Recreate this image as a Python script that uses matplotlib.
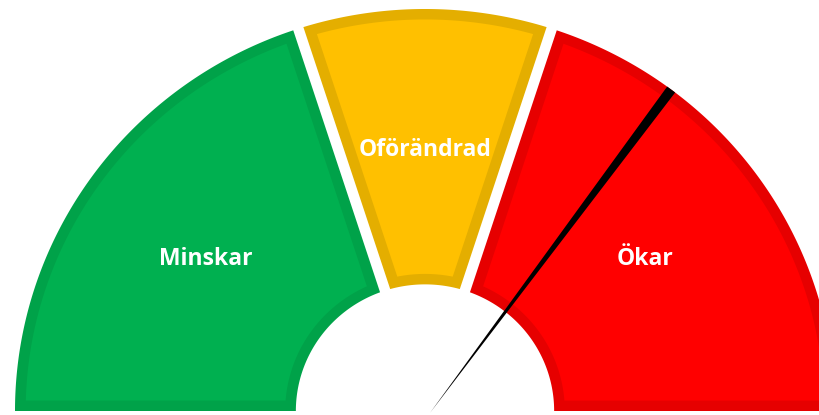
import numpy as np
import matplotlib
matplotlib.use("Agg")
import matplotlib.pyplot as plt
from matplotlib.patches import Polygon

# ---- data ----
categories = ["Minskar", "Oförändrad", "Ökar"]
segment_values = [40, 20, 40]          # share of the half circle (0-100 scale)
needle_value = 70.5                    # needle position on the 0-100 scale
scale_max = 100

fill_colors = ["#00B050", "#FFC000", "#FF0000"]
border_colors = ["#00A249", "#E4AE00", "#E60000"]

# ---- geometry (styles) ----
r_out = 1.0
r_in = 0.315
gap = 0.026          # white gap between segments
border = 0.026       # darker inner border width
needle_half_width_deg = 0.7
label_r = 0.662
label_dy = -0.012

fig = plt.figure(figsize=(8.19, 4.15), dpi=100)
ax = fig.add_axes([0, 0, 1, 1])
ax.set_xlim(-425 / 410, 394 / 410)
ax.set_ylim(-4 / 402, 411 / 402)
ax.axis("off")


def sector_poly(th1, th2, R, r, d1, d2, n=200):
    """th1 > th2 in degrees; d1/d2 perpendicular offsets of the straight edges."""
    a1 = np.radians(th1)
    a2 = np.radians(th2)
    out = np.linspace(a1 - np.arcsin(d1 / R), a2 + np.arcsin(d2 / R), n)
    inn = np.linspace(a2 + np.arcsin(d2 / r), a1 - np.arcsin(d1 / r), n)
    xs = np.concatenate([R * np.cos(out), r * np.cos(inn)])
    ys = np.concatenate([R * np.sin(out), r * np.sin(inn)])
    return np.column_stack([xs, ys])


cum = np.concatenate([[0], np.cumsum(segment_values)])
n_seg = len(segment_values)
for i in range(n_seg):
    th1 = 180 - 180 * cum[i] / scale_max
    th2 = 180 - 180 * cum[i + 1] / scale_max
    d1 = 0 if i == 0 else gap / 2
    d2 = 0 if i == n_seg - 1 else gap / 2
    outer = sector_poly(th1, th2, r_out, r_in, d1, d2)
    ax.add_patch(Polygon(outer, closed=True, facecolor=border_colors[i],
                         edgecolor="none"))
    inner = sector_poly(th1, th2, r_out - border, r_in + border,
                        d1 + border, d2 + border)
    ax.add_patch(Polygon(inner, closed=True, facecolor=fill_colors[i],
                         edgecolor="none"))
    mid = np.radians((th1 + th2) / 2)
    ax.text(label_r * np.cos(mid), label_r * np.sin(mid) + label_dy, categories[i],
            color="white", fontsize=16.5, fontweight="bold", family="Open Sans",
            ha="center", va="center")

# needle
na = 180 - 180 * needle_value / scale_max
angs = np.radians(np.linspace(na - needle_half_width_deg, na + needle_half_width_deg, 10))
pts = np.vstack([[0.012, -0.005], np.column_stack([r_out * np.cos(angs), r_out * np.sin(angs)])])
ax.add_patch(Polygon(pts, closed=True, facecolor="black", edgecolor="none", zorder=5))

fig.savefig("out.png", dpi=100, facecolor="white")
